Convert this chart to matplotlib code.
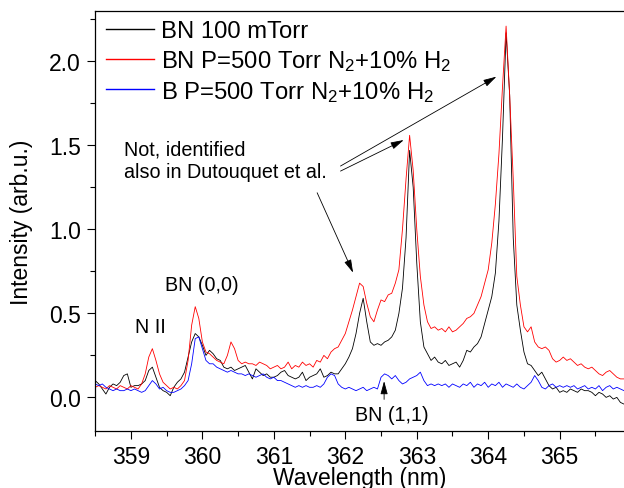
import matplotlib
matplotlib.use("Agg")
import matplotlib.pyplot as plt
import numpy as np
from matplotlib.ticker import MultipleLocator

plt.rcParams['font.family'] = ['Liberation Sans', 'DejaVu Sans']
plt.rcParams['mathtext.default'] = 'regular'

# wavelength grid, 0.05 nm steps from 358.50 to 365.90
wavelength = np.round(358.5 + 0.05 * np.arange(149), 2)

# BN 100 mTorr
bn_100mtorr = [
    0.10, 0.08, 0.05, 0.02, 0.06, 0.08, 0.07, 0.09, 0.13, 0.14,
    0.06, 0.07, 0.07, 0.08, 0.10, 0.16, 0.18, 0.12, 0.06, 0.04,
    0.03, 0.01, 0.06, 0.09, 0.11, 0.15, 0.24, 0.33, 0.38, 0.36,
    0.31, 0.25, 0.28, 0.26, 0.23, 0.22, 0.18, 0.17, 0.18, 0.16,
    0.17, 0.18, 0.19, 0.15, 0.11, 0.17, 0.15, 0.13, 0.14, 0.12,
    0.12, 0.13, 0.15, 0.16, 0.13, 0.12, 0.11, 0.12, 0.15, 0.10,
    0.12, 0.13, 0.14, 0.17, 0.12, 0.13, 0.15, 0.14, 0.14, 0.17,
    0.20, 0.24, 0.29, 0.38, 0.50, 0.59, 0.45, 0.33, 0.31, 0.32,
    0.31, 0.33, 0.34, 0.36, 0.40, 0.50, 0.65, 0.95, 1.47, 1.25,
    0.80, 0.45, 0.30, 0.26, 0.22, 0.24, 0.21, 0.20, 0.22, 0.19,
    0.20, 0.21, 0.18, 0.22, 0.28, 0.27, 0.30, 0.32, 0.36, 0.44,
    0.52, 0.60, 0.74, 1.05, 1.55, 2.17, 1.80, 0.95, 0.55, 0.40,
    0.27, 0.20, 0.19, 0.16, 0.13, 0.15, 0.11, 0.07, 0.05, 0.06,
    0.03, 0.04, 0.03, 0.05, 0.04, 0.03, 0.05, 0.04, 0.04, 0.03,
    0.01, 0.03, 0.02, 0.00, 0.01, -0.01, 0.00, -0.03, -0.04,
]

# BN P=500 Torr N2+10% H2
bn_500torr = [
    0.06, 0.07, 0.06, 0.05, 0.07, 0.06, 0.05, 0.07, 0.06, 0.05,
    0.07, 0.06, 0.05, 0.08, 0.14, 0.24, 0.29, 0.22, 0.14, 0.09,
    0.07, 0.05, 0.06, 0.05, 0.07, 0.10, 0.22, 0.43, 0.54, 0.47,
    0.33, 0.27, 0.26, 0.24, 0.22, 0.21, 0.20, 0.25, 0.33, 0.29,
    0.22, 0.20, 0.21, 0.20, 0.20, 0.19, 0.21, 0.20, 0.19, 0.17,
    0.18, 0.19, 0.17, 0.18, 0.21, 0.17, 0.19, 0.18, 0.21, 0.19,
    0.20, 0.18, 0.22, 0.21, 0.25, 0.23, 0.27, 0.29, 0.30, 0.34,
    0.38, 0.45, 0.52, 0.60, 0.68, 0.66, 0.56, 0.48, 0.45, 0.52,
    0.58, 0.57, 0.61, 0.62, 0.68, 0.76, 1.00, 1.30, 1.56, 1.35,
    1.00, 0.72, 0.55, 0.45, 0.41, 0.42, 0.40, 0.41, 0.39, 0.42,
    0.39, 0.40, 0.42, 0.44, 0.47, 0.48, 0.50, 0.55, 0.60, 0.68,
    0.76, 0.92, 1.15, 1.45, 1.85, 2.21, 1.80, 1.30, 0.72, 0.55,
    0.42, 0.39, 0.42, 0.33, 0.30, 0.29, 0.30, 0.28, 0.23, 0.21,
    0.22, 0.24, 0.22, 0.23, 0.21, 0.19, 0.20, 0.18, 0.17, 0.18,
    0.16, 0.14, 0.13, 0.15, 0.16, 0.14, 0.12, 0.11, 0.11,
]

# B P=500 Torr N2+10% H2
b_500torr = [
    0.08, 0.07, 0.08, 0.06, 0.05, 0.04, 0.05, 0.04, 0.04, 0.05,
    0.04, 0.05, 0.04, 0.03, 0.04, 0.07, 0.10, 0.08, 0.05, 0.06,
    0.04, 0.03, 0.03, 0.04, 0.05, 0.07, 0.10, 0.20, 0.35, 0.36,
    0.29, 0.22, 0.20, 0.20, 0.18, 0.17, 0.16, 0.15, 0.16, 0.15,
    0.14, 0.14, 0.13, 0.14, 0.13, 0.12, 0.13, 0.14, 0.12, 0.11,
    0.12, 0.10, 0.10, 0.09, 0.08, 0.07, 0.06, 0.07, 0.06, 0.07,
    0.06, 0.06, 0.07, 0.06, 0.08, 0.12, 0.14, 0.13, 0.08, 0.06,
    0.05, 0.06, 0.05, 0.04, 0.05, 0.06, 0.04, 0.05, 0.06, 0.05,
    0.12, 0.14, 0.13, 0.11, 0.13, 0.10, 0.08, 0.09, 0.11, 0.12,
    0.13, 0.15, 0.10, 0.07, 0.08, 0.07, 0.08, 0.07, 0.08, 0.06,
    0.08, 0.07, 0.06, 0.08, 0.07, 0.09, 0.06, 0.08, 0.07, 0.09,
    0.06, 0.08, 0.07, 0.09, 0.06, 0.08, 0.07, 0.06, 0.08, 0.06,
    0.05, 0.07, 0.09, 0.13, 0.10, 0.06, 0.05, 0.07, 0.08, 0.06,
    0.07, 0.06, 0.07, 0.06, 0.07, 0.05, 0.06, 0.07, 0.05, 0.06,
    0.05, 0.07, 0.04, 0.06, 0.07, 0.05, 0.06, 0.05, 0.04,
]

labels = ['BN 100 mTorr',
          'BN P=500 Torr N$_2$+10% H$_2$',
          'B P=500 Torr N$_2$+10% H$_2$']

fig = plt.figure(figsize=(6.24, 4.89), dpi=100)
ax = fig.add_axes([0.1522, 0.1166, 0.8478, 0.8589])

ax.plot(wavelength, bn_100mtorr, color='black', lw=0.6, label=labels[0])
ax.plot(wavelength, bn_500torr, color='red', lw=0.6, label=labels[1])
ax.plot(wavelength, b_500torr, color='blue', lw=0.6, label=labels[2])

ax.set_xlim(358.497, 365.9)
ax.set_ylim(-0.2, 2.3)
ax.xaxis.set_major_locator(MultipleLocator(1))
ax.xaxis.set_minor_locator(MultipleLocator(0.5))
ax.yaxis.set_major_locator(MultipleLocator(0.5))
ax.yaxis.set_minor_locator(MultipleLocator(0.25))
ax.tick_params(which='major', direction='out', length=6, width=0.8, labelsize=16.5, pad=4)
ax.tick_params(which='minor', direction='out', length=3.5, width=0.8)
ax.spines['right'].set_visible(False)
for s in ['left', 'bottom', 'top']:
    ax.spines[s].set_linewidth(0.9)

# reference crops the x label at the bottom edge; keep it just inside
ax.set_xlabel('Wavelength (nm)', fontsize=16.5, labelpad=-1)
ax.set_ylabel('Intensity (arb.u.)', fontsize=16.5)
ax.yaxis.set_label_coords(-0.118, 0.5)

leg = ax.legend(loc='upper left', bbox_to_anchor=(-0.006, 1.012), frameon=False,
                fontsize=17.2, handlelength=2.0, handletextpad=0.3,
                labelspacing=0.24, borderaxespad=0.2)
for line in leg.get_lines():
    line.set_linewidth(1.0)

# peak labels
ax.text(359.27, 0.42, 'N II', fontsize=14.2, ha='center', va='center')
ax.text(359.99, 0.67, 'BN (0,0)', fontsize=14.2, ha='center', va='center')
ax.text(358.90, 1.535, 'Not, identified\nalso in Dutouquet et al.', fontsize=14.2,
        ha='left', va='top', linespacing=1.25)
ax.text(362.65, -0.10, 'BN (1,1)', fontsize=14.2, ha='center', va='center')

arrow = dict(arrowstyle='-|>,head_length=0.8,head_width=0.22', color='black',
             lw=0.6, shrinkA=0, shrinkB=0, mutation_scale=10)
ax.annotate('', xy=(364.115, 1.909), xytext=(361.933, 1.377), arrowprops=arrow)
ax.annotate('', xy=(362.818, 1.532), xytext=(361.933, 1.347), arrowprops=arrow)
ax.annotate('', xy=(362.109, 0.742), xytext=(361.606, 1.218), arrowprops=arrow)
ax.annotate('', xy=(362.543, 0.097), xytext=(362.543, -0.012), arrowprops=arrow)

fig.savefig('out.png', dpi=100)
